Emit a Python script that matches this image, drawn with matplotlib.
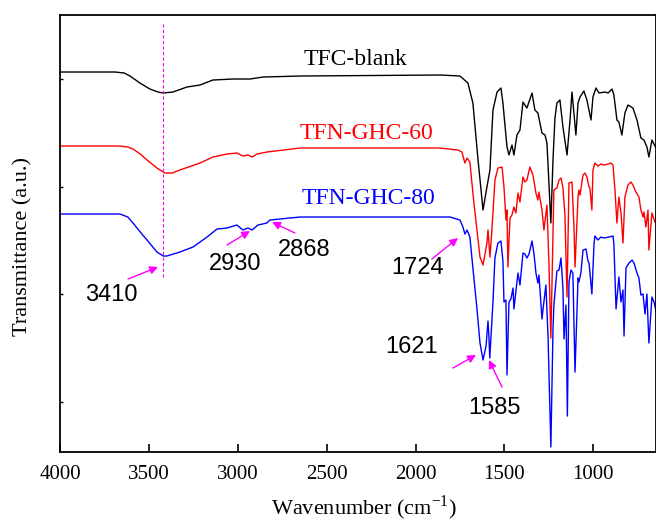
import numpy as np
import matplotlib
matplotlib.use("Agg")
import matplotlib.pyplot as plt

plt.rcParams['font.family'] = ['Liberation Serif', 'DejaVu Serif']

# FTIR spectra (wavenumber, transmittance a.u.)
wn_blank = [4000, 3693, 3640, 3608, 3552, 3496, 3450, 3422, 3366, 3287, 3214, 3141, 3029, 2932,
            2859, 2651, 1862, 1750, 1705, 1677, 1648, 1620, 1598, 1581, 1564, 1541, 1519, 1508,
            1485, 1474, 1457, 1446, 1429, 1412, 1395, 1373, 1344, 1328, 1311, 1288, 1271, 1260,
            1238, 1226, 1215, 1204, 1187, 1170, 1147, 1130, 1119, 1097, 1085, 1074, 1052, 1035,
            1012, 1001, 984, 967, 933, 916, 894, 883, 866, 855, 838, 821, 804, 776, 753, 731,
            714, 697, 686, 669, 646]
t_blank = [3.80, 3.80, 3.79, 3.76, 3.69, 3.63, 3.60, 3.59, 3.60, 3.65, 3.67, 3.72, 3.73, 3.73,
           3.75, 3.76, 3.77, 3.76, 3.69, 3.49, 2.92, 2.42, 2.65, 2.82, 3.42, 3.60, 3.64, 3.49,
           3.05, 2.97, 3.07, 2.97, 3.17, 3.22, 3.50, 3.44, 3.59, 3.42, 3.39, 3.19, 3.17, 3.09,
           2.29, 2.92, 3.34, 3.49, 3.52, 3.25, 2.97, 3.32, 3.60, 3.17, 3.49, 3.55, 3.61, 3.52,
           3.32, 3.55, 3.64, 3.59, 3.60, 3.59, 3.63, 3.57, 3.32, 3.30, 3.17, 3.39, 3.47, 3.44,
           3.32, 3.14, 3.12, 3.05, 2.95, 3.12, 3.04]

wn_60 = [4000, 3664, 3620, 3591, 3550, 3512, 3456, 3411, 3370, 3327, 3214, 3141, 3062, 3006,
         2972, 2944, 2921, 2893, 2837, 2651, 1862, 1761, 1739, 1722, 1710, 1694, 1677, 1665,
         1637, 1620, 1598, 1592, 1581, 1570, 1553, 1536, 1513, 1502, 1491, 1485, 1480, 1468,
         1457, 1446, 1435, 1423, 1412, 1395, 1384, 1373, 1356, 1339, 1322, 1311, 1305, 1288,
         1277, 1260, 1249, 1238, 1221, 1204, 1192, 1181, 1170, 1159, 1147, 1136, 1119, 1108,
         1102, 1085, 1080, 1074, 1057, 1046, 1035, 1023, 1018, 1007, 1001, 990, 973, 956, 939,
         916, 900, 888, 877, 866, 855, 843, 832, 821, 804, 787, 776, 759, 742, 731, 719, 714,
         703, 691, 686, 669, 652]
t_60 = [3.06, 3.06, 3.05, 3.03, 2.98, 2.92, 2.84, 2.79, 2.79, 2.82, 2.89, 2.95, 2.98, 2.99,
        2.96, 2.97, 2.95, 2.98, 3.00, 3.04, 3.04, 3.02, 3.00, 2.89, 2.94, 2.90, 2.59, 2.39,
        1.95, 1.87, 2.09, 2.22, 1.95, 2.22, 2.72, 2.84, 2.85, 2.65, 2.32, 2.42, 1.85, 2.34,
        2.37, 2.45, 2.39, 2.59, 2.50, 2.75, 2.70, 2.72, 2.85, 2.77, 2.59, 2.52, 2.60, 2.42,
        2.22, 2.47, 1.89, 1.14, 2.62, 2.64, 2.72, 2.74, 2.64, 2.38, 1.55, 2.69, 2.70, 2.25,
        1.85, 2.55, 2.62, 2.57, 2.77, 2.79, 2.75, 2.65, 2.64, 2.42, 2.82, 2.89, 2.86, 2.88,
        2.87, 2.88, 2.89, 2.87, 2.62, 2.29, 2.55, 2.39, 2.09, 2.55, 2.67, 2.70, 2.67, 2.60,
        2.55, 2.42, 2.35, 2.40, 2.25, 2.42, 2.02, 2.39, 2.30]

wn_80 = [4000, 3664, 3620, 3591, 3550, 3512, 3456, 3420, 3400, 3327, 3253, 3174, 3118, 3062,
         3006, 2972, 2944, 2921, 2887, 2837, 2820, 2651, 1806, 1750, 1733, 1722, 1710, 1694,
         1677, 1654, 1637, 1620, 1603, 1592, 1587, 1582, 1564, 1553, 1536, 1519, 1508, 1502,
         1491, 1485, 1474, 1463, 1451, 1446, 1429, 1423, 1412, 1395, 1384, 1373, 1361, 1344,
         1333, 1322, 1311, 1305, 1288, 1282, 1266, 1254, 1238, 1226, 1221, 1204, 1192, 1181,
         1170, 1164, 1153, 1145, 1136, 1125, 1114, 1102, 1085, 1080, 1069, 1057, 1040, 1029,
         1023, 1007, 995, 990, 973, 956, 939, 911, 888, 883, 871, 855, 843, 832, 826, 815, 798,
         781, 770, 753, 742, 731, 719, 708, 697, 686, 669, 657, 646]
t_80 = [2.38, 2.38, 2.35, 2.29, 2.20, 2.12, 2.00, 1.96, 1.96, 2.00, 2.05, 2.15, 2.23, 2.24,
        2.27, 2.22, 2.24, 2.22, 2.27, 2.29, 2.32, 2.35, 2.35, 2.32, 2.25, 2.18, 2.22, 2.15,
        1.84, 1.43, 1.09, 0.92, 1.06, 1.31, 1.16, 0.94, 1.50, 1.94, 2.09, 2.11, 1.91, 1.50,
        1.52, 0.77, 1.50, 1.53, 1.64, 1.43, 1.70, 1.79, 1.67, 1.99, 1.98, 1.94, 1.98, 2.11,
        1.98, 1.79, 1.69, 1.77, 1.33, 1.43, 1.67, 1.16, 0.05, 1.23, 1.47, 1.81, 1.82, 1.94,
        1.64, 1.13, 1.47, 0.36, 1.70, 1.82, 1.79, 0.80, 1.74, 1.70, 1.79, 2.02, 2.03, 1.91,
        1.89, 1.58, 2.08, 2.16, 2.12, 2.15, 2.14, 2.15, 2.16, 2.08, 1.43, 1.75, 1.50, 1.62,
        1.16, 1.84, 1.89, 1.92, 1.89, 1.79, 1.74, 1.57, 1.58, 1.38, 1.58, 1.09, 1.55, 1.50,
        1.41]

names = ["TFC-blank", "TFN-GHC-60", "TFN-GHC-80"]
colors = ["black", "red", "blue"]
name_pos = [(2341, 3.93), (2279, 3.19), (2268, 2.54)]

# peak labels: text, text pos, arrow tail, arrow head
peaks = ["3410", "2930", "2868", "1724", "1621", "1585"]
peak_text = [(3715, 1.57), (3017, 1.88), (2628, 2.02), (1986, 1.84), (2020, 1.05), (1553, 0.44)]
peak_tail = [(3619, 1.73), (3062, 2.07), (2679, 2.19), (1908, 1.93), (1789, 0.84), (1513, 0.65)]
peak_head = [(3450, 1.85), (2932, 2.21), (2808, 2.30), (1761, 2.14), (1660, 0.97), (1587, 0.92)]

fig = plt.figure(figsize=(6.56, 5.25), dpi=100)
ax = fig.add_axes([0.092, 0.139, 0.908, 0.8324])

ax.plot(wn_blank, t_blank, color=colors[0], lw=1.0)
ax.plot(wn_60, t_60, color=colors[1], lw=1.0)
ax.plot(wn_80, t_80, color=colors[2], lw=1.0)

for n, c, p in zip(names, colors, name_pos):
    ax.text(p[0], p[1], n, color=c, fontsize=17, ha='center', va='center')

ax.plot([3420, 3420], [1.75, 4.28], color='magenta', lw=0.8, ls=(0, (3, 2)))

for lab, tp, tl, hd in zip(peaks, peak_text, peak_tail, peak_head):
    ax.annotate("", xy=hd, xytext=tl,
                arrowprops=dict(arrowstyle='-|>', color='magenta', lw=1.0,
                                mutation_scale=12, shrinkA=0, shrinkB=0))
    ax.text(tp[0], tp[1], lab, fontsize=17, ha='center', va='center',
            family=['Liberation Sans', 'DejaVu Sans'])

ax.set_xlim(4000, 646)
ax.set_ylim(0, 4.37)
ax.set_xticks([4000, 3500, 3000, 2500, 2000, 1500, 1000])
ax.set_yticks([0.50, 1.58, 2.65, 3.73])
ax.set_yticklabels([])
ax.tick_params(axis='x', direction='in', length=6, width=1.2, labelsize=15, pad=9)
ax.tick_params(axis='y', direction='in', length=2.5, width=1.0)
for s in ax.spines.values():
    s.set_linewidth(1.3)

ax.set_xlabel("Wavenumber (cm$^{\\mathregular{-1}}$)", fontsize=16)
ax.xaxis.set_label_coords(0.51, -0.095)
ax.set_ylabel("Transmittance (a.u.)", fontsize=16)
ax.yaxis.set_label_coords(-0.046, 0.47)

fig.savefig("out.png", dpi=100)
